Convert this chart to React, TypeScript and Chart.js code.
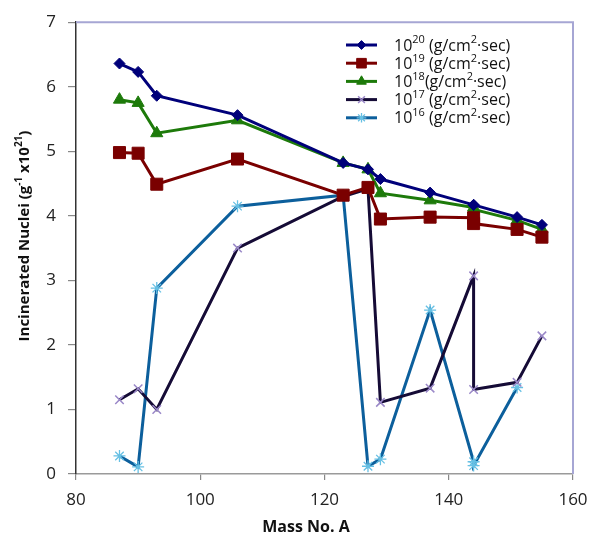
import React, { useEffect, useRef } from 'react';
import { Chart, registerables } from 'chart.js';
import { drawPoint } from 'chart.js/helpers';

Chart.register(...registerables);

// ---- data ----
const massNumbers = [87, 90, 93, 106, 123, 127, 129, 137, 144, 144, 151, 155];
const flux20 = [6.36, 6.23, 5.86, 5.56, 4.82, 4.72, 4.57, 4.36, 4.17, 4.17, 3.98, 3.86];
const flux19 = [4.98, 4.97, 4.49, 4.88, 4.32, 4.44, 3.95, 3.98, 3.97, 3.88, 3.79, 3.67];
const flux18 = [5.8, 5.75, 5.28, 5.48, 4.82, 4.72, 4.35, 4.24, 4.13, 4.1, 3.93, 3.79];
const flux17 = [1.15, 1.32, 1.0, 3.5, 4.3, 4.42, 1.11, 1.33, 3.07, 1.31, 1.42, 2.14];
const flux16 = [0.28, 0.11, 2.88, 4.15, 4.32, 0.12, 0.23, 2.54, 0.19, 0.13, 1.34, null];
const seriesExponents = ['20', '19', '18', '17', '16'];
const xTickValues = [80, 100, 120, 140, 160];
const yTickValues = [0, 1, 2, 3, 4, 5, 6, 7];
const xTitle = 'Mass No. A';

const FONT = '"Open Sans", "DejaVu Sans", sans-serif';

type Seg = { t: string; sup?: boolean };

function segWidth(ctx: CanvasRenderingContext2D, segs: Seg[], size: number, weight: string) {
  let w = 0;
  for (const s of segs) {
    ctx.font = `${weight} ${s.sup ? Math.round(size * 0.68) : size}px ${FONT}`;
    w += ctx.measureText(s.t).width;
  }
  return w;
}

function drawRich(ctx: CanvasRenderingContext2D, segs: Seg[], x: number, y: number, size: number, weight: string) {
  let cx = x;
  ctx.textBaseline = 'middle';
  ctx.textAlign = 'left';
  for (const s of segs) {
    const fs = s.sup ? Math.round(size * 0.68) : size;
    ctx.font = `${weight} ${fs}px ${FONT}`;
    ctx.fillText(s.t, cx, s.sup ? y - size * 0.36 : y);
    cx += ctx.measureText(s.t).width;
  }
}

const styles = [
  { line: '#00007a', point: 'rectRot', pColor: '#00007a', pFill: '#00007a', r: 5.5, pw: 1 },
  { line: '#7a0000', point: 'rect', pColor: '#7a0000', pFill: '#7a0000', r: 8.5, pw: 1 },
  { line: '#1d7a0a', point: 'triangle', pColor: '#1d7a0a', pFill: '#1d7a0a', r: 7, pw: 1 },
  { line: '#150b36', point: 'crossRot', pColor: '#9a88c8', pFill: '#9a88c8', r: 6, pw: 1.5 },
  { line: '#0c5f9c', point: 'star', pColor: '#66c0e4', pFill: '#66c0e4', r: 6, pw: 1.3 },
];

const seriesValues = [flux20, flux19, flux18, flux17, flux16];

const framePlugin = {
  id: 'frame',
  afterDraw(chart: any) {
    const { ctx, chartArea } = chart;
    ctx.save();
    ctx.strokeStyle = '#a6a6d4';
    ctx.lineWidth = 2;
    ctx.beginPath();
    ctx.moveTo(chartArea.left, chartArea.top);
    ctx.lineTo(chartArea.right, chartArea.top);
    ctx.lineTo(chartArea.right, chartArea.bottom);
    ctx.stroke();
    ctx.restore();
  },
};

const legendPlugin = {
  id: 'customLegend',
  afterDraw(chart: any) {
    const ctx: CanvasRenderingContext2D = chart.ctx;
    ctx.save();
    const x0 = 346, x1 = 377, tx = 394, y0 = 45, dy = 18.2;
    seriesExponents.forEach((exp, i) => {
      const st = styles[i];
      const y = y0 + i * dy;
      ctx.strokeStyle = st.line;
      ctx.lineWidth = 3;
      ctx.beginPath();
      ctx.moveTo(x0, y);
      ctx.lineTo(x1, y);
      ctx.stroke();
      ctx.strokeStyle = st.pColor;
      ctx.fillStyle = st.pFill;
      ctx.lineWidth = st.pw;
      drawPoint(ctx, { pointStyle: st.point as any, radius: st.r * 0.8, borderWidth: st.pw, rotation: 0 } as any, (x0 + x1) / 2, y);
      ctx.fillStyle = '#111';
      const segs: Seg[] = [
        { t: '10' },
        { t: exp, sup: true },
        { t: exp === '18' ? '(g/cm' : ' (g/cm' },
        { t: '2', sup: true },
        { t: '·sec)' },
      ];
      drawRich(ctx, segs, tx, y + 1, 16, '400');
    });
    ctx.restore();
  },
};

const titlesPlugin = {
  id: 'titles',
  afterDraw(chart: any) {
    const ctx: CanvasRenderingContext2D = chart.ctx;
    ctx.save();
    ctx.fillStyle = '#111';
    const ySegs: Seg[] = [
      { t: 'Incinerated Nuclei (g' },
      { t: '-1', sup: true },
      { t: ' x10' },
      { t: '21', sup: true },
      { t: ')' },
    ];
    const w = segWidth(ctx, ySegs, 15, '700');
    ctx.translate(25, 236);
    ctx.rotate(-Math.PI / 2);
    drawRich(ctx, ySegs, -w / 2, 0, 15, '700');
    ctx.restore();
    ctx.save();
    ctx.fillStyle = '#111';
    ctx.font = `700 16px ${FONT}`;
    ctx.textAlign = 'center';
    ctx.textBaseline = 'middle';
    ctx.fillText(xTitle, 306, 527);
    ctx.restore();
  },
};

export default function App() {
  const ref = useRef<HTMLCanvasElement | null>(null);
  useEffect(() => {
    document.body.style.margin = '0';
    const canvas = ref.current;
    if (!canvas) return;
    const datasets = seriesValues.map((vals, i) => {
      const st = styles[i];
      return {
        label: '10^' + seriesExponents[i],
        data: massNumbers.map((m, j) => ({ x: m, y: vals[j] })),
        borderColor: st.line,
        borderWidth: 3,
        pointStyle: st.point,
        pointRadius: st.r,
        pointBorderColor: st.pColor,
        pointBackgroundColor: st.pFill,
        pointBorderWidth: st.pw,
        fill: false,
        spanGaps: false,
        tension: 0,
      };
    });
    const chart = new Chart(canvas, {
      type: 'line',
      data: { datasets: datasets as any },
      plugins: [framePlugin, legendPlugin, titlesPlugin],
      options: {
        responsive: false,
        animation: false,
        layout: { padding: { top: 18, right: 27, left: 0, bottom: 0 } },
        plugins: { legend: { display: false }, tooltip: { enabled: false } },
        scales: {
          x: {
            type: 'linear',
            min: 80,
            max: 160,
            afterBuildTicks: (s: any) => { s.ticks = xTickValues.map((v) => ({ value: v })); },
            afterFit: (s: any) => { s.height = 69; },
            ticks: { font: { size: 17, family: FONT }, color: '#222', padding: 10 },
            grid: { drawOnChartArea: false, drawTicks: true, tickLength: 6, color: '#888', lineWidth: 1.2 },
            border: { display: true, color: '#9a9a9a', width: 1.5 },
          },
          y: {
            type: 'linear',
            min: 0,
            max: 7,
            afterBuildTicks: (s: any) => { s.ticks = yTickValues.map((v) => ({ value: v })); },
            afterFit: (s: any) => { s.width = 76; },
            ticks: { font: { size: 17, family: FONT }, color: '#222', padding: 12 },
            grid: { drawOnChartArea: false, drawTicks: true, tickLength: 8, color: '#888', lineWidth: 1.2 },
            border: { display: true, color: '#333', width: 1.5 },
          },
        },
      } as any,
    });
    return () => chart.destroy();
  }, []);
  return (
    <div style={{ width: 600, height: 543, background: '#fff' }}>
      <canvas ref={ref} width={600} height={543} />
    </div>
  );
}
